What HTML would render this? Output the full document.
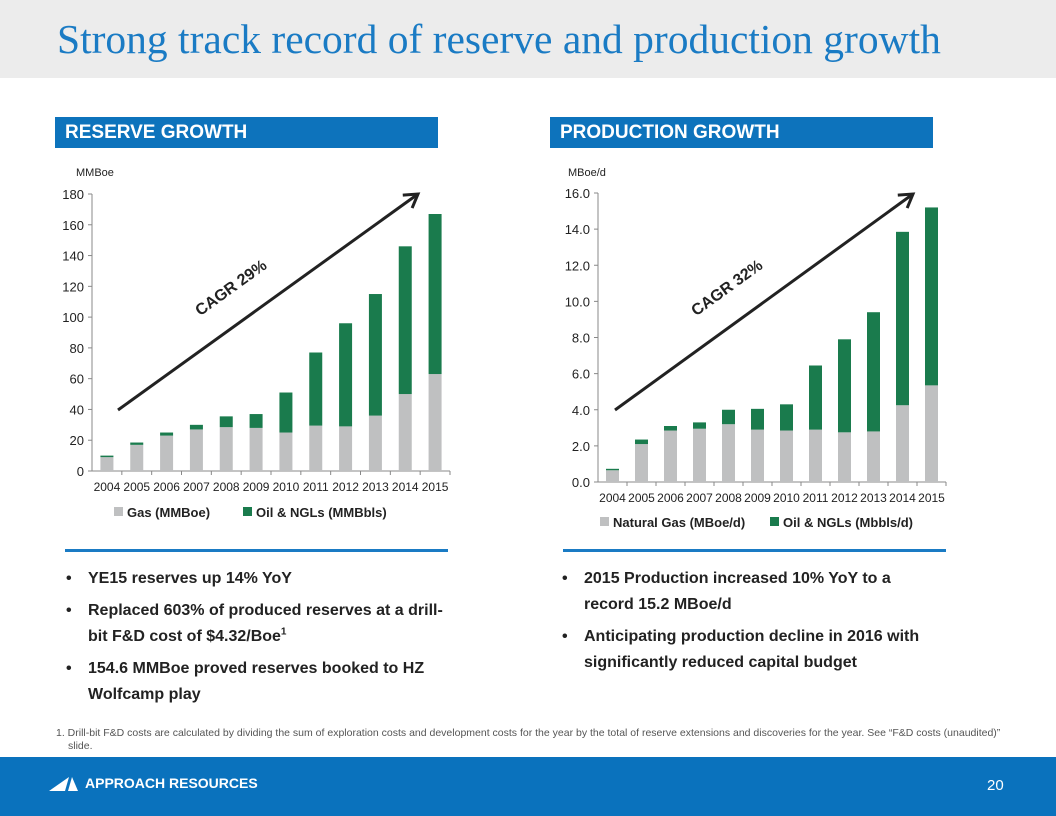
<!DOCTYPE html>
<html><head><meta charset="utf-8"><style>
body{margin:0;width:1056px;height:816px;position:relative;background:#fff;font-family:"Liberation Sans",sans-serif;overflow:hidden}
.t{position:absolute;left:0;top:0;width:1056px;height:78px;background:#ececec}
.t h1{margin:0;position:absolute;left:57px;top:15px;font:41.5px "Liberation Serif",serif;color:#1a7bc4;font-weight:normal;white-space:nowrap}
.hd{position:absolute;top:117px;height:31px;background:#0d73bc;color:#fff;font-weight:bold;font-size:19px;line-height:31px;padding-left:10px;box-sizing:border-box}
.ln{position:absolute;top:549px;height:3px;background:#1a7bc4;width:383px}
ul{position:absolute;margin:0;padding:0;list-style:none;font-weight:bold;font-size:16px;color:#222;line-height:26px}
li{position:relative;padding-left:26px;margin-bottom:6px}
li:before{content:"•";position:absolute;left:4px}
sup{font-size:10px;line-height:0}
.ft{position:absolute;left:0;top:757px;width:1056px;height:59px;background:#0a72bd;color:#fff}
</style></head><body>
<div class="t"><h1>Strong track record of reserve and production growth</h1></div>
<div class="hd" style="left:55px;width:383px">RESERVE GROWTH</div>
<div class="hd" style="left:550px;width:383px">PRODUCTION GROWTH</div>
<svg id="c" width="1056" height="545" style="position:absolute;left:0;top:0"></svg>
<div class="ln" style="left:65px"></div>
<div class="ln" style="left:563px"></div>
<ul style="left:62px;top:566px;width:400px">
<li>YE15 reserves up 14% YoY</li>
<li>Replaced 603% of produced reserves at a drill-<br>bit F&amp;D cost of $4.32/Boe<sup>1</sup></li>
<li>154.6 MMBoe proved reserves booked to HZ<br>Wolfcamp play</li></ul>
<ul style="left:558px;top:566px;width:380px">
<li>2015 Production increased 10% YoY to a record 15.2 MBoe/d</li>
<li>Anticipating production decline in 2016 with significantly reduced capital budget</li></ul>
<div style="position:absolute;left:0;top:727px;width:940px;font-size:10.5px;color:#555;line-height:13px;padding-left:68px;text-indent:-12px">1. Drill-bit F&amp;D costs are calculated by dividing the sum of exploration costs and development costs for the year by the total of reserve extensions and discoveries for the year. See “F&amp;D costs (unaudited)” slide.</div>
<div class="ft">
<svg width="30" height="14" style="position:absolute;left:49px;top:20px"><polygon points="0,14 20,0 16,14" fill="#fff"/><polygon points="19,14 23,0 29,14" fill="#fff"/></svg>
<div style="position:absolute;left:85px;top:18px;font-weight:bold;font-size:14px">APPROACH RESOURCES</div>
<div style="position:absolute;left:987px;top:20px;font-size:15px">20</div></div>
<script>
const years=["2004","2005","2006","2007","2008","2009","2010","2011","2012","2013","2014","2015"];
const resGas=[9,17,23,27,28.5,28,25,29.5,29,36,50,63];
const resOil=[1,1.5,2,3,7,9,26,47.5,67,79,96,104];
const resTicks=[0,20,40,60,80,100,120,140,160,180];
const prodGas=[0.65,2.1,2.85,2.95,3.2,2.9,2.85,2.9,2.75,2.8,4.25,5.35];
const prodOil=[0.08,0.25,0.25,0.35,0.8,1.15,1.45,3.55,5.15,6.6,9.6,9.85];
const prodTicks=[0,2,4,6,8,10,12,14,16];
const NS="http://www.w3.org/2000/svg",svg=document.getElementById('c');
function mk(t,a,txt){const e=document.createElementNS(NS,t);for(const k in a)e.setAttribute(k,a[k]);if(txt!=null)e.textContent=txt;svg.appendChild(e);return e;}
function chart(o){
 const y=v=>o.y0-(v/o.max)*(o.y0-o.y1);
 const bw=(o.x1-o.x0)/years.length;
 let e=mk('line',{x1:o.x0,y1:o.y1,x2:o.x0,y2:o.y0,stroke:'#888'});
 
 e=mk('line',{x1:o.x0,y1:o.y0,x2:o.x1,y2:o.y0,stroke:'#888'});
 
 o.ticks.forEach(t=>{
  mk('line',{x1:o.x0-4,x2:o.x0,y1:y(t),y2:y(t),stroke:'#888'});
  e=mk('text',{x:o.x0-8,y:y(t)+5,'text-anchor':'end','font-size':13,fill:'#222'},o.fmt(t));
  
 });
 years.forEach((yr,i)=>{
  const cx=o.x0+bw*(i+0.5);
  mk('line',{x1:o.x0+bw*(i+1),x2:o.x0+bw*(i+1),y1:o.y0,y2:o.y0+4,stroke:'#888'});
  e=mk('rect',{x:cx-6.5,y:y(o.g[i]),width:13,height:o.y0-y(o.g[i]),fill:'#bfc0c1'});
  
  e=mk('rect',{x:cx-6.5,y:y(o.g[i]+o.o[i]),width:13,height:y(o.g[i])-y(o.g[i]+o.o[i]),fill:'#1a7b4d'});
  
  e=mk('text',{x:cx,y:o.y0+20,'text-anchor':'middle','font-size':12,fill:'#222'},yr);
  
 });
 e=mk('text',{x:o.ux,y:176,'font-size':11,fill:'#222'},o.unit);
 
 e=mk('line',{x1:o.a[0],y1:o.a[1],x2:o.a[2],y2:o.a[3],stroke:'#222','stroke-width':3});
 
 const [ax,ay,bx,by]=o.a,ang=Math.atan2(by-ay,bx-ax);
 const p=(d,s)=>[bx-d*Math.cos(ang)+s*Math.sin(ang),by-d*Math.sin(ang)-s*Math.cos(ang)];
 mk('polyline',{points:[p(13,8),[bx,by],p(13,-8)].map(q=>q.join(',')).join(' '),fill:'none',stroke:'#222','stroke-width':3});
 const mx=(ax+bx)/2-34,my=(ay+by)/2-10,deg=ang*180/Math.PI;
 e=mk('text',{x:mx,y:my,'font-size':16,'font-weight':'bold',fill:'#222',transform:`rotate(${deg} ${mx} ${my})`,'text-anchor':'middle'},o.cagr);
 
 e=mk('rect',{x:o.lx,y:o.ly-10,width:9,height:9,fill:'#bfc0c1'});
 e=mk('text',{x:o.lx+13,y:o.ly,'font-size':13,'font-weight':'bold',fill:'#222'},o.l1);
 
 mk('rect',{x:o.lx2,y:o.ly-10,width:9,height:9,fill:'#1a7b4d'});
 e=mk('text',{x:o.lx2+13,y:o.ly,'font-size':13,'font-weight':'bold',fill:'#222'},o.l2);
 
}
chart({p:'reserve',x0:92,x1:450,y0:471,y1:194,max:180,ticks:resTicks,g:resGas,o:resOil,fmt:t=>String(t),unit:'MMBoe',ux:76,a:[118,410,418,194],cagr:'CAGR 29%',lx:114,lx2:243,ly:517,l1:'Gas (MMBoe)',l2:'Oil & NGLs (MMBbls)'});
chart({p:'production',x0:598,x1:946,y0:482,y1:193,max:16,ticks:prodTicks,g:prodGas,o:prodOil,fmt:t=>t.toFixed(1),unit:'MBoe/d',ux:568,a:[615,410,913,194],cagr:'CAGR 32%',lx:600,lx2:770,ly:527,l1:'Natural Gas (MBoe/d)',l2:'Oil & NGLs (Mbbls/d)'});
</script>
</body></html>
